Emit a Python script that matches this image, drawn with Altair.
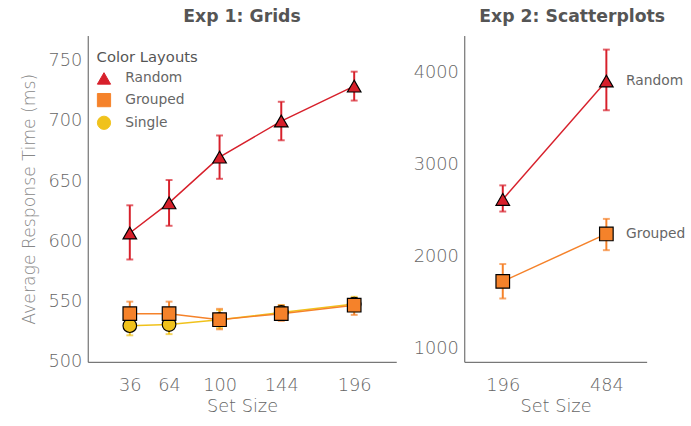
import altair as alt
import pandas as pd

# ---- Exp 1 data ----
exp1_sizes = [36, 64, 100, 144, 196]
random1 = [607, 632, 670, 700, 729]
random1_lo = [585, 613, 652, 684, 717]
random1_hi = [630, 651, 688, 716, 741]
grouped1 = [540, 540, 535, 540, 547]
grouped1_lo = [532, 532, 527, 534, 539]
grouped1_hi = [550, 550, 544, 547, 553]
single1 = [530, 531, 535, 541, 548]
single1_lo = [522, 523, 528, 535, 542]
single1_hi = [538, 540, 543, 547, 554]

# ---- Exp 2 data ----
exp2_sizes = [196, 484]
random2 = [2622, 3911]
random2_lo = [2490, 3593]
random2_hi = [2775, 4254]
grouped2 = [1729, 2246]
grouped2_lo = [1543, 2069]
grouped2_hi = [1918, 2410]

layouts = ["Random", "Grouped", "Single"]
colors = ["#D7202B", "#F5822A", "#F0C21C"]
shapes = ["triangle-up", "square", "circle"]

FONT = "DejaVu Sans"
TXT = "#666666"

def frame(sizes, series):
    rows = []
    for name, vals, lo, hi in series:
        for s, v, l, h in zip(sizes, vals, lo, hi):
            rows.append({"size": s, "rt": v, "lo": l, "hi": h, "layout": name})
    return pd.DataFrame(rows)

df1 = frame(exp1_sizes, [
    ("Single", single1, single1_lo, single1_hi),
    ("Grouped", grouped1, grouped1_lo, grouped1_hi),
    ("Random", random1, random1_lo, random1_hi),
])
df2 = frame(exp2_sizes, [
    ("Grouped", grouped2, grouped2_lo, grouped2_hi),
    ("Random", random2, random2_lo, random2_hi),
])
lab2 = pd.DataFrame({"size": [484, 484], "rt": [random2[1], grouped2[1]], "layout": ["Random", "Grouped"]})


def sc(kind):
    return alt.Scale(domain=layouts, range=colors if kind == "c" else shapes)


def panel(df, xdom, xticks, ydom, yticks, ytitle, title, title_dx, width, show_legend):
    x_axis = alt.Axis(values=xticks, title="Set Size", grid=False, ticks=False,
                      labelFontSize=18, titleFontSize=18, labelColor=TXT, titleColor=TXT,
                      labelFont=FONT, titleFont=FONT, labelFontWeight=300, labelPadding=15,
                      titlePadding=3, titleFontWeight=300, domainColor="#555555",
                      labelFlush=False, format="d")
    y_axis = alt.Axis(values=yticks, title=ytitle, grid=False, ticks=False,
                      labelFontSize=18, titleFontSize=17.5, labelColor=TXT, titleColor="#888888",
                      labelFont=FONT, titleFont=FONT, labelFontWeight=300, labelPadding=6,
                      titlePadding=10, titleFontWeight=300, domainColor="#555555", format="d")
    x = alt.X("size:Q", scale=alt.Scale(domain=xdom, nice=False, zero=False), axis=x_axis)
    y = alt.Y("rt:Q", scale=alt.Scale(domain=ydom, nice=False, zero=False), axis=y_axis)
    if show_legend:
        legend = alt.Legend(title="Color Layouts", orient="none", legendX=9, legendY=15,
                            titleFontSize=15, titleColor="#555555", titleFont=FONT,
                            titleFontWeight="normal", labelFontSize=14, labelColor=TXT,
                            labelFont=FONT, symbolSize=180, symbolOpacity=1,
                            symbolStrokeColor="black", symbolStrokeWidth=1,
                            rowPadding=4, titlePadding=6, labelOffset=14)
    else:
        legend = None
    base = alt.Chart(df)
    lines = base.mark_line(strokeWidth=1.5).encode(
        x=x, y=y, color=alt.Color("layout:N", scale=sc("c"), legend=legend),
        detail="layout:N")
    rules = base.mark_rule(strokeWidth=2).encode(
        x=x, y="lo:Q", y2="hi:Q", color=alt.Color("layout:N", scale=sc("c"), legend=legend))
    caps_lo = base.mark_tick(orient="horizontal", size=7, thickness=2).encode(
        x=x, y="lo:Q", color=alt.Color("layout:N", scale=sc("c"), legend=legend))
    caps_hi = base.mark_tick(orient="horizontal", size=7, thickness=2).encode(
        x=x, y="hi:Q", color=alt.Color("layout:N", scale=sc("c"), legend=legend))
    pts = base.mark_point(filled=True, opacity=1, stroke="black", strokeWidth=1.2, size=190).encode(
        x=x, y=y,
        color=alt.Color("layout:N", scale=sc("c"), legend=legend),
        shape=alt.Shape("layout:N", scale=sc("s"), legend=legend))
    layers = [lines, rules, caps_lo, caps_hi, pts]
    return alt.layer(*layers).properties(
        width=width, height=331,
        title=alt.TitleParams(title, fontSize=17.5, font=FONT, fontWeight="bold",
                              color="#555555", offset=10, dx=title_dx, anchor="middle"))


left = panel(df1, [6, 226], exp1_sizes, [500, 771], [500, 550, 600, 650, 700, 750],
             "Average Response Time (ms)", "Exp 1: Grids", 0, 313, True)

right_base = panel(df2, [89, 596], exp2_sizes, [853, 4407], [1000, 2000, 3000, 4000],
                   "", "Exp 2: Scatterplots", 17, 185, False)

labels = alt.Chart(lab2).mark_text(align="left", dx=20, fontSize=14, font=FONT,
                                   color=TXT).encode(
    x=alt.X("size:Q", scale=alt.Scale(domain=[89, 596], nice=False, zero=False)),
    y=alt.Y("rt:Q", scale=alt.Scale(domain=[853, 4407], nice=False, zero=False)),
    text="layout:N")

right = alt.layer(right_base, labels)

chart = alt.hconcat(left, right, spacing=17).properties(
    padding={"left": 20, "top": 5, "right": 5, "bottom": 5}
).resolve_scale(color="independent", shape="independent").resolve_legend(
    color="independent", shape="independent"
).configure_view(stroke=None)

chart.save("out.html", embed_options={"renderer": "svg", "actions": False})
